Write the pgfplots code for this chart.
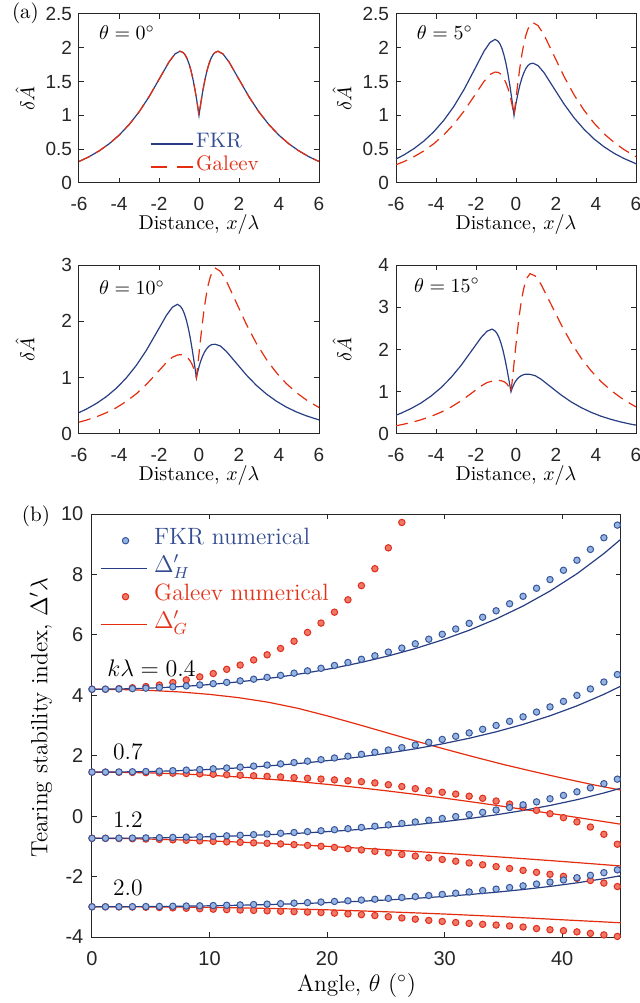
\documentclass[border=0pt]{standalone}
\usepackage{fontspec}
\usepackage{pgfplots}
\usepackage{pgfplotstable}
\pgfplotsset{compat=1.18}
\newfontfamily\ticksans{Liberation Sans}

\definecolor{fkrline}{RGB}{40,62,130}
\definecolor{galline}{RGB}{228,45,15}
\definecolor{fkredge}{RGB}{55,85,155}
\definecolor{fkrfill}{RGB}{150,180,225}
\definecolor{galedge}{RGB}{225,45,25}
\definecolor{galfill}{RGB}{240,120,105}
\definecolor{fkrtext}{RGB}{50,75,145}
\definecolor{galtext}{RGB}{228,50,25}
\definecolor{axcol}{RGB}{38,38,38}

% numerical points, theta in degrees
\pgfplotstableread{
th     f04   f07   f12    f20    g04  g07    g12    g20
0.000  4.200 1.457 -0.733 -3.000 4.20 1.457  -0.733 -3.000
1.146  4.202 1.458 -0.732 -3.000 4.20 1.455  -0.735 -3.001
2.292  4.209 1.462 -0.730 -2.998 4.22 1.452  -0.740 -3.004
3.438  4.220 1.469 -0.726 -2.996 4.25 1.447  -0.748 -3.009
4.584  4.236 1.478 -0.720 -2.992 4.29 1.440  -0.758 -3.016
5.730  4.256 1.490 -0.713 -2.987 4.34 1.432  -0.770 -3.025
6.875  4.280 1.505 -0.704 -2.982 4.42 1.422  -0.784 -3.036
8.021  4.310 1.523 -0.693 -2.975 4.51 1.411  -0.800 -3.049
9.167  4.344 1.543 -0.681 -2.968 4.61 1.399  -0.817 -3.064
10.313 4.384 1.566 -0.667 -2.959 4.72 1.385  -0.835 -3.080
11.459 4.428 1.593 -0.651 -2.949 4.86 1.370  -0.852 -3.094
12.605 4.478 1.622 -0.633 -2.938 5.00 1.354  -0.868 -3.107
13.751 4.532 1.655 -0.613 -2.925 5.17 1.336  -0.884 -3.120
14.897 4.593 1.691 -0.591 -2.912 5.34 1.317  -0.900 -3.133
16.043 4.659 1.730 -0.568 -2.897 5.55 1.297  -0.920 -3.147
17.189 4.731 1.773 -0.542 -2.880 5.79 1.275  -0.942 -3.161
18.335 4.809 1.819 -0.513 -2.863 6.08 1.252  -0.968 -3.175
19.481 4.894 1.870 -0.483 -2.844 6.39 1.227  -0.998 -3.190
20.626 4.986 1.925 -0.450 -2.823 6.75 1.200  -1.035 -3.210
21.772 5.085 1.983 -0.414 -2.801 7.16 1.170  -1.075 -3.235
22.918 5.192 2.047 -0.375 -2.777 7.63 1.140  -1.118 -3.260
24.064 5.307 2.115 -0.334 -2.751 8.19 1.100  -1.165 -3.290
25.210 5.430 2.189 -0.290 -2.723 8.88 1.040  -1.215 -3.330
26.356 5.562 2.267 -0.242 -2.693 9.72 0.980  -1.268 -3.370
27.502 5.704 2.351 -0.191 -2.661 nan  0.910  -1.322 -3.410
28.648 5.856 2.442 -0.136 -2.627 nan  0.840  -1.378 -3.450
29.794 6.020 2.539 -0.077 -2.590 nan  0.790  -1.435 -3.485
30.940 6.194 2.643 -0.014 -2.551 nan  0.730  -1.492 -3.520
32.086 6.381 2.754  0.053 -2.509 nan  0.660  -1.550 -3.550
33.232 6.583 2.874  0.126 -2.463 nan  0.590  -1.610 -3.580
34.377 6.797 3.001  0.203 -2.415 nan  0.500  -1.670 -3.605
35.523 7.029 3.139  0.286 -2.363 nan  0.400  -1.732 -3.635
36.669 7.276 3.286  0.376 -2.307 nan  0.300  -1.795 -3.670
37.815 7.543 3.445  0.472 -2.247 nan  0.190  -1.860 -3.720
38.961 7.830 3.615  0.575 -2.183 nan  0.080  -1.925 -3.760
40.107 8.138 3.798  0.686 -2.113 nan  -0.050 -1.992 -3.790
41.253 8.470 3.996  0.806 -2.038 nan  -0.190 -2.060 -3.830
42.399 8.828 4.209  0.935 -1.958 nan  -0.360 -2.130 -3.880
43.545 9.214 4.439  1.074 -1.871 nan  -0.600 -2.215 -3.930
44.691 9.632 4.687  1.224 -1.777 nan  -0.930 -2.330 -3.980
}\numtab

% Delta'_H curves
\pgfplotstableread{
th     h04   h07   h12    h20
0.000  4.200 1.457 -0.733 -3.000
2.292  4.208 1.462 -0.730 -2.998
4.584  4.232 1.475 -0.722 -2.993
6.875  4.272 1.498 -0.709 -2.985
9.167  4.329 1.531 -0.690 -2.973
11.459 4.404 1.574 -0.665 -2.958
13.751 4.498 1.628 -0.634 -2.938
16.043 4.611 1.693 -0.596 -2.915
18.335 4.746 1.770 -0.551 -2.887
20.626 4.904 1.861 -0.498 -2.854
22.918 5.089 1.967 -0.436 -2.816
25.210 5.302 2.089 -0.365 -2.772
27.502 5.547 2.229 -0.283 -2.721
29.794 5.830 2.392 -0.189 -2.662
32.086 6.153 2.577 -0.081 -2.595
34.377 6.526 2.791  0.044 -2.518
36.669 6.955 3.037  0.187 -2.429
38.961 7.450 3.321  0.353 -2.326
41.253 8.023 3.650  0.544 -2.208
43.545 8.690 4.032  0.767 -2.069
45.000 9.170 4.307  0.927 -1.970
}\htab

% Delta'_G curves
\pgfplotstableread{
th   g04  g07    g12    g20
0.0  4.20 1.457  -0.733 -3.000
2.5  4.19 1.450  -0.740 -3.001
5.0  4.16 1.431  -0.760 -3.005
7.5  4.11 1.398  -0.787 -3.011
10.0 4.03 1.353  -0.820 -3.020
12.5 3.92 1.296  -0.858 -3.036
15.0 3.77 1.226  -0.900 -3.055
17.5 3.57 1.145  -0.948 -3.076
20.0 3.32 1.053  -1.000 -3.100
22.5 3.05 0.952  -1.054 -3.131
25.0 2.77 0.841  -1.110 -3.165
27.5 2.49 0.721  -1.168 -3.201
30.0 2.22 0.595  -1.230 -3.240
32.5 1.96 0.461  -1.294 -3.284
35.0 1.71 0.322  -1.360 -3.330
37.5 1.48 0.178  -1.429 -3.379
40.0 1.26 0.031  -1.500 -3.430
42.5 1.05 -0.118 -1.574 -3.480
45.0 0.86 -0.268 -1.650 -3.530
}\gtab

\pgfplotsset{
  mybase/.style={scale only axis, anchor=south west,
    axis line style={draw=axcol, line width=0.5pt},
    tick style={draw=axcol, line width=0.5pt},
    tick align=inside, tick pos=both, major tick length=2.5pt,
    /pgf/number format/assume math mode=true,
    ticklabel style={text=axcol},
    xticklabel style={yshift=-3.5pt}},
  apanel/.style={mybase, width=120pt, height=84.5pt,
    xmin=-6, xmax=6, xtick={-6,-4,-2,0,2,4,6},
    ticklabel style={font=\ticksans\fontsize{9.5}{11}\selectfont},
    xlabel={Distance, $x/\lambda$}, ylabel={$\delta\hat{A}$},
    x label style={at={([yshift=-21pt]axis description cs:0.5,0)}, anchor=center, font=\fontsize{10}{12}\selectfont},
    y label style={at={([xshift=-27pt]axis description cs:0,0.5)}, anchor=center, font=\fontsize{10}{12}\selectfont}},
  fkr/.style={fkrline, line width=0.6pt, forget plot},
  gal/.style={galline, line width=0.6pt, dash pattern=on 6pt off 3.5pt, forget plot},
}
\tikzset{thlabel/.style={anchor=west, font=\fontsize{10}{12}\selectfont},
  klabel/.style={anchor=west, font=\fontsize{11.8}{13}\selectfont}}

\begin{document}
\begin{tikzpicture}
\useasboundingbox (0,0) rectangle (320pt,501.5pt);
\node[anchor=west, font=\fontsize{10.5}{12}\selectfont] at (2.5pt,495pt) {(a)};
\node[anchor=east, font=\fontsize{10.5}{12}\selectfont] at (28.5pt,243.5pt) {(b)};

% theta = 0
\begin{axis}[apanel, at={(39.5pt,410pt)}, ymin=0, ymax=2.5, ytick={0,0.5,1,1.5,2,2.5},
  legend style={at={(0.296,0.299)}, anchor=north west, draw=none, fill=none,
    inner sep=0pt, outer sep=0pt, row sep=0pt, font=\fontsize{10.5}{12}\selectfont,
    nodes={inner xsep=1.5pt, inner ysep=0pt, text height=7.5pt, text depth=4pt}},
  legend cell align=left]
\addplot[fkr] table {
-6 0.318
-5.5 0.388
-5 0.474
-4.5 0.578
-4 0.706
-3.5 0.862
-3 1.050
-2.5 1.275
-2 1.532
-1.5 1.791
-1.2 1.909
-0.95 1.949
-0.8 1.931
-0.7 1.898
-0.6 1.843
-0.5 1.764
-0.4 1.662
-0.3 1.533
-0.2 1.379
-0.1 1.200
-0.05 1.103
0 1.000
0.05 1.103
0.1 1.200
0.2 1.379
0.3 1.533
0.4 1.662
0.5 1.764
0.6 1.843
0.7 1.898
0.8 1.931
0.95 1.949
1.2 1.909
1.5 1.791
2 1.532
2.5 1.275
3 1.050
3.5 0.862
4 0.706
4.5 0.578
5 0.474
5.5 0.388
6 0.318
};
\addplot[gal] table {
-6 0.318
-5.5 0.388
-5 0.474
-4.5 0.578
-4 0.706
-3.5 0.862
-3 1.050
-2.5 1.275
-2 1.532
-1.5 1.791
-1.2 1.909
-0.95 1.949
-0.8 1.931
-0.7 1.898
-0.6 1.843
-0.5 1.764
-0.4 1.662
-0.3 1.533
-0.2 1.379
-0.1 1.200
-0.05 1.103
0 1.000
0.05 1.103
0.1 1.200
0.2 1.379
0.3 1.533
0.4 1.662
0.5 1.764
0.6 1.843
0.7 1.898
0.8 1.931
0.95 1.949
1.2 1.909
1.5 1.791
2 1.532
2.5 1.275
3 1.050
3.5 0.862
4 0.706
4.5 0.578
5 0.474
5.5 0.388
6 0.318
};
\node[thlabel] at (rel axis cs:0.054,0.888) {$\theta = 0^\circ$};
\addlegendimage{legend image code/.code={\draw[fkrline, line width=0.6pt] (0pt,0pt) -- (21pt,0pt);}}
\addlegendentry{\textcolor{fkrtext}{FKR}}
\addlegendimage{legend image code/.code={\draw[galline, line width=0.6pt, dash pattern=on 8pt off 5pt] (0pt,0pt) -- (21pt,0pt);}}
\addlegendentry{\textcolor{galtext}{Galeev}}
\end{axis}

% theta = 5
\begin{axis}[apanel, at={(198pt,410pt)}, ymin=0, ymax=2.5, ytick={0,0.5,1,1.5,2,2.5}]
\addplot[fkr] table {
-6 0.354
-5.6 0.416
-5.1 0.509
-4.6 0.622
-4.1 0.761
-3.6 0.931
-3.1 1.136
-2.6 1.382
-2.1 1.664
-1.6 1.949
-1.3 2.079
-1.05 2.124
-0.9 2.099
-0.8 2.056
-0.7 1.988
-0.6 1.890
-0.5 1.766
-0.4 1.611
-0.3 1.428
-0.2 1.222
-0.15 1.113
-0.1 1.000
-0.05 1.093
0 1.178
0.1 1.329
0.2 1.455
0.3 1.557
0.4 1.636
0.5 1.697
0.6 1.738
0.7 1.762
0.85 1.772
1.1 1.737
1.4 1.633
1.9 1.400
2.4 1.169
2.9 0.965
3.4 0.795
3.9 0.652
4.4 0.536
4.9 0.440
5.4 0.362
6 0.285
};
\addplot[gal] table {
-6 0.270
-5.6 0.317
-5.1 0.389
-4.6 0.476
-4.1 0.583
-3.6 0.715
-3.1 0.873
-2.6 1.063
-2.1 1.282
-1.6 1.503
-1.3 1.605
-1.05 1.641
-0.9 1.637
-0.8 1.620
-0.7 1.589
-0.6 1.542
-0.5 1.480
-0.4 1.397
-0.3 1.293
-0.2 1.161
-0.15 1.085
-0.1 1.000
-0.05 1.128
0 1.254
0.1 1.498
0.2 1.720
0.3 1.913
0.4 2.069
0.5 2.192
0.6 2.279
0.7 2.335
0.85 2.372
1.1 2.329
1.4 2.192
1.9 1.884
2.4 1.577
2.9 1.305
3.4 1.077
3.9 0.886
4.4 0.729
4.9 0.601
5.4 0.494
6 0.390
};
\node[thlabel] at (rel axis cs:0.058,0.888) {$\theta = 5^\circ$};
\end{axis}

% theta = 10
\begin{axis}[apanel, at={(39.5pt,284.5pt)}, ymin=0, ymax=3, ytick={0,1,2,3}]
\addplot[fkr] table {
-6 0.380
-5.63 0.442
-5.13 0.542
-4.63 0.664
-4.13 0.813
-3.63 0.997
-3.13 1.220
-2.63 1.487
-2.13 1.794
-1.63 2.106
-1.33 2.251
-1.08 2.302
-0.93 2.268
-0.83 2.216
-0.73 2.134
-0.63 2.019
-0.53 1.871
-0.43 1.689
-0.33 1.478
-0.23 1.245
-0.18 1.124
-0.13 1.000
-0.08 1.082
-0.03 1.155
0.07 1.279
0.17 1.375
0.27 1.451
0.37 1.507
0.47 1.549
0.57 1.576
0.67 1.590
0.82 1.592
1.07 1.562
1.37 1.465
1.87 1.256
2.37 1.047
2.87 0.863
3.37 0.710
3.87 0.582
4.37 0.477
4.87 0.392
5.37 0.322
6 0.250
};
\addplot[gal] table {
-6 0.210
-5.63 0.246
-5.13 0.305
-4.63 0.378
-4.13 0.468
-3.63 0.579
-3.13 0.715
-2.63 0.880
-2.13 1.072
-1.63 1.270
-1.33 1.363
-1.08 1.401
-0.93 1.408
-0.83 1.404
-0.73 1.391
-0.63 1.369
-0.53 1.337
-0.43 1.291
-0.33 1.225
-0.23 1.131
-0.18 1.071
-0.13 1.000
-0.08 1.161
-0.03 1.326
0.07 1.658
0.17 1.973
0.27 2.250
0.37 2.480
0.47 2.663
0.57 2.794
0.67 2.881
0.82 2.943
1.07 2.888
1.37 2.715
1.87 2.329
2.37 1.946
2.87 1.608
3.37 1.324
3.87 1.088
4.37 0.894
4.87 0.735
5.37 0.604
6 0.470
};
\node[thlabel] at (rel axis cs:0.054,0.864) {$\theta = 10^\circ$};
\end{axis}

% theta = 15
\begin{axis}[apanel, at={(198pt,284.5pt)}, ymin=0, ymax=4, ytick={0,1,2,3,4}]
\addplot[fkr] table {
-6 0.445
-5.75 0.492
-5.25 0.602
-4.75 0.734
-4.25 0.897
-3.75 1.096
-3.25 1.336
-2.75 1.622
-2.25 1.950
-1.75 2.280
-1.45 2.432
-1.2 2.483
-1.05 2.441
-0.95 2.380
-0.85 2.283
-0.75 2.149
-0.65 1.978
-0.55 1.769
-0.45 1.529
-0.35 1.268
-0.3 1.134
-0.25 1.000
-0.2 1.071
-0.15 1.132
-0.05 1.228
0.05 1.295
0.15 1.343
0.25 1.376
0.35 1.399
0.45 1.413
0.55 1.417
0.7 1.411
0.95 1.382
1.25 1.298
1.75 1.111
2.25 0.926
2.75 0.762
3.25 0.627
3.75 0.514
4.25 0.421
4.75 0.346
5.25 0.283
5.75 0.232
6 0.210
};
\addplot[gal] table {
-6 0.195
-5.75 0.218
-5.25 0.271
-4.75 0.336
-4.25 0.417
-3.75 0.515
-3.25 0.637
-2.75 0.784
-2.25 0.956
-1.75 1.134
-1.45 1.218
-1.2 1.251
-1.05 1.265
-0.95 1.269
-0.85 1.268
-0.75 1.261
-0.65 1.248
-0.55 1.225
-0.45 1.183
-0.35 1.112
-0.3 1.062
-0.25 1.000
-0.2 1.212
-0.15 1.434
-0.05 1.898
0.05 2.349
0.15 2.756
0.25 3.096
0.35 3.365
0.45 3.563
0.55 3.694
0.7 3.795
0.95 3.744
1.25 3.543
1.75 3.073
2.25 2.595
2.75 2.166
3.25 1.802
3.75 1.497
4.25 1.242
4.75 1.031
5.25 0.856
5.75 0.709
6 0.640
};
\node[thlabel] at (rel axis cs:0.046,0.88) {$\theta = 15^\circ$};
\end{axis}

% panel (b)
\begin{axis}[mybase, at={(46pt,33pt)}, width=264.5pt, height=211.5pt,
  xmin=0, xmax=45, ymin=-4, ymax=10,
  xtick={0,10,20,30,40}, ytick={-4,-2,0,2,4,6,8,10},
  ticklabel style={font=\ticksans\fontsize{10}{12}\selectfont},
  yticklabel style={xshift=-0.8pt},
  xlabel={Angle, $\theta$ $(^\circ)$}, ylabel={Tearing stability index, $\Delta'\lambda$},
  x label style={at={([yshift=-24pt]axis description cs:0.5,0)}, anchor=center, font=\fontsize{11.7}{13}\selectfont},
  y label style={at={([xshift=-25.5pt,yshift=4pt]axis description cs:0,0.5)}, anchor=center, font=\fontsize{11.7}{13}\selectfont},
  legend style={at={(0.015,0.970)}, anchor=north west, draw=none, fill=none,
    inner sep=0pt, outer sep=0pt, row sep=0pt, font=\fontsize{11.8}{13}\selectfont,
    nodes={inner xsep=3.5pt, inner ysep=0pt, text height=9pt, text depth=5pt}},
  legend cell align=left,
  gline/.style={galline, line width=0.6pt, forget plot},
  hline/.style={fkrline, line width=0.6pt, forget plot},
  gmark/.style={only marks, mark=*, mark size=1.6pt, mark options={draw=galedge, fill=galfill, line width=0.5pt}, forget plot},
  fmark/.style={only marks, mark=*, mark size=1.6pt, mark options={draw=fkredge, fill=fkrfill, line width=0.5pt}, forget plot}]
\addplot[gline] table[x=th, y=g04] {\gtab};
\addplot[gline] table[x=th, y=g07] {\gtab};
\addplot[gline] table[x=th, y=g12] {\gtab};
\addplot[gline] table[x=th, y=g20] {\gtab};
\addplot[gmark] table[x=th, y=g04] {\numtab};
\addplot[gmark] table[x=th, y=g07] {\numtab};
\addplot[gmark] table[x=th, y=g12] {\numtab};
\addplot[gmark] table[x=th, y=g20] {\numtab};
\addplot[hline] table[x=th, y=h04] {\htab};
\addplot[hline] table[x=th, y=h07] {\htab};
\addplot[hline] table[x=th, y=h12] {\htab};
\addplot[hline] table[x=th, y=h20] {\htab};
\addplot[fmark] table[x=th, y=f04] {\numtab};
\addplot[fmark] table[x=th, y=f07] {\numtab};
\addplot[fmark] table[x=th, y=f12] {\numtab};
\addplot[fmark] table[x=th, y=f20] {\numtab};
\node[klabel] at (axis cs:0.7,4.9) {$k\lambda = 0.4$};
\node[klabel] at (axis cs:1.2,2.13) {0.7};
\node[klabel] at (axis cs:1.2,-0.1) {1.2};
\node[klabel] at (axis cs:1.2,-2.36) {2.0};
\addlegendimage{legend image code/.code={\path[draw=none] (0pt,0pt) -- (23pt,0pt); \draw[draw=fkredge, fill=fkrfill, line width=0.5pt] (12.5pt,0pt) circle[radius=1.6pt];}}
\addlegendentry{\textcolor{fkrtext}{FKR numerical}}
\addlegendimage{legend image code/.code={\draw[fkrline, line width=0.6pt] (0pt,0pt) -- (23pt,0pt);}}
\addlegendentry{\textcolor{fkrtext}{$\Delta'_H$}}
\addlegendimage{legend image code/.code={\path[draw=none] (0pt,0pt) -- (23pt,0pt); \draw[draw=galedge, fill=galfill, line width=0.5pt] (12.5pt,0pt) circle[radius=1.6pt];}}
\addlegendentry{\textcolor{galtext}{Galeev numerical}}
\addlegendimage{legend image code/.code={\draw[galline, line width=0.6pt] (0pt,0pt) -- (23pt,0pt);}}
\addlegendentry{\textcolor{galtext}{$\Delta'_G$}}
\end{axis}
\end{tikzpicture}
\end{document}
